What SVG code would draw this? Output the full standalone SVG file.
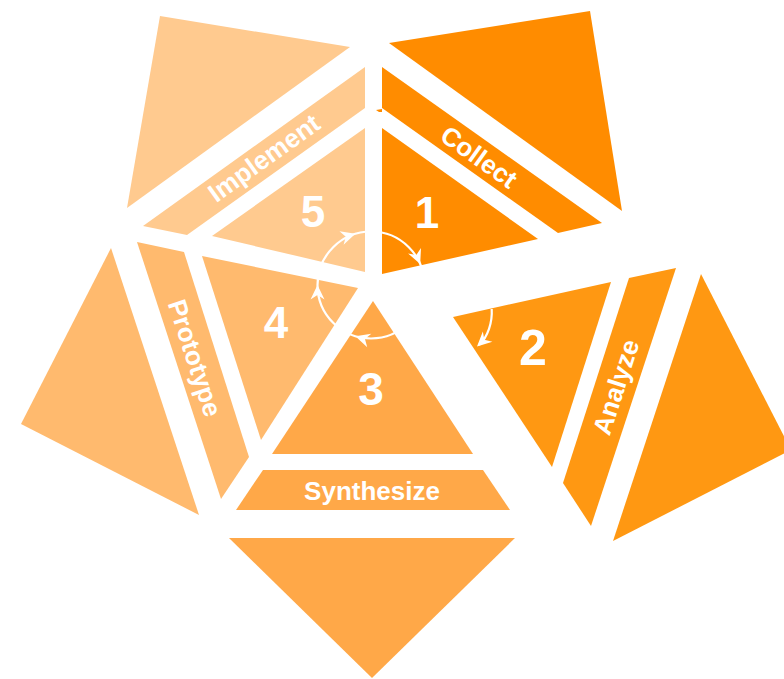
<svg xmlns="http://www.w3.org/2000/svg" xmlns:xlink="http://www.w3.org/1999/xlink" width="784" height="679" viewBox="0 0 784 679">
<style>
.num{font-family:"Liberation Sans",Arial,sans-serif;font-weight:bold;fill:#fff;text-anchor:middle}
.lbl{font-family:"Liberation Sans",Arial,sans-serif;font-weight:bold;font-size:26px;fill:#fff;text-anchor:middle}
.c1{fill:#FF8C00}.c2{fill:#FF9812}.c3{fill:#FFA848}.c4{fill:#FFBA6E}.c5{fill:#FFCA8F}
.ring{fill:none;stroke:#fff;stroke-width:2.2}
</style>
<defs>
<polygon id="ah" points="0,0 -14.5,-7 -10,0 -14.5,7" fill="#fff"/>
</defs>
<rect width="784" height="679" fill="#fff"/>
<g id="seg5">
<polygon class="c5" points="160,16 350,47 127,208"/>
<polygon class="c5" points="365,67 365,108 187,235 143,226"/>
<polygon class="c5" points="365,128 365,272 212,236"/>
<text class="lbl" transform="translate(264,158) rotate(-35.6)" y="9">Implement</text>
<text class="num" x="313" y="227" font-size="44">5</text>
</g>
<g id="seg1">
<polygon class="c1" points="389,43 590,11 622,211"/>
<polygon class="c1" points="382,67 602,223 558,233 382,108"/>
<polygon class="c1" points="376,110 382,109 382,112 379,112"/>
<polygon class="c1" points="382,128 538,239 382,274"/>
<text class="lbl" transform="translate(479,157) rotate(35.4)" y="9">Collect</text>
<text class="num" x="427" y="228" font-size="44">1</text>
</g>
<g id="seg2">
<polygon class="c2" points="701,274 791,450 613,541"/>
<polygon class="c2" points="629,278 676,268 591,526 563,483"/>
<polygon class="c2" points="453,317 611,282 552,467"/>
<text class="lbl" transform="translate(616,387) rotate(-72.2)" y="9">Analyze</text>
<text class="num" x="533" y="365" font-size="50">2</text>
</g>
<g id="seg3">
<polygon class="c3" points="229,538 515,538 372,678"/>
<polygon class="c3" points="263,470 483,470 510,510 236,510"/>
<polygon class="c3" points="373,301 473,454 272,454"/>
<text class="lbl" x="372" y="500">Synthesize</text>
<text class="num" x="371" y="405" font-size="46">3</text>
</g>
<g id="seg4">
<polygon class="c4" points="111,248 199,515 21,424"/>
<polygon class="c4" points="137,242 184,252 249,457 221,499"/>
<polygon class="c4" points="202,256 358,288 261,440"/>
<text class="lbl" transform="translate(195,358) rotate(71.9)" y="9">Prototype</text>
<text class="num" x="276" y="338" font-size="44">4</text>
</g>
<g id="connectors">
<circle class="ring" cx="371" cy="285" r="53.5"/>
<use xlink:href="#ah" transform="translate(355.4,233.8) rotate(-17)"/>
<use xlink:href="#ah" transform="translate(420.2,264.1) rotate(67)"/>
<use xlink:href="#ah" transform="translate(355.4,336.2) rotate(197)"/>
<use xlink:href="#ah" transform="translate(317.5,285) rotate(270)"/>
<path class="ring" d="M491.7,309 C492.5,322 488,337 479,345"/>
<use xlink:href="#ah" transform="translate(477,346.5) rotate(137)"/>
</g>
</svg>
